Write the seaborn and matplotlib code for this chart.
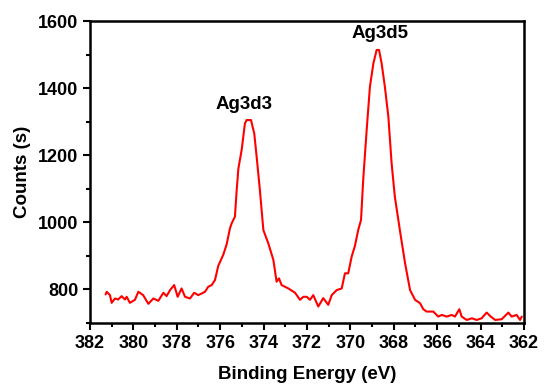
import numpy as np
import pandas as pd
import seaborn as sns
from matplotlib import pyplot as plt
from matplotlib.ticker import MultipleLocator

# binding energy (eV) and counts
energy = [381.28, 381.23, 381.08, 381.00, 380.85, 380.70, 380.54, 380.39, 380.31,
          380.16, 379.93, 379.77, 379.55, 379.31, 379.08, 378.85, 378.62, 378.47,
          378.31, 378.12, 377.96, 377.78, 377.62, 377.39, 377.20, 377.01, 376.85,
          376.70, 376.55, 376.39, 376.24, 376.09, 375.86, 375.70, 375.55, 375.47,
          375.32, 375.24, 375.16, 375.01, 374.86, 374.78, 374.58, 374.43, 374.32,
          374.17, 374.01, 373.78, 373.55, 373.40, 373.29, 373.17, 372.86, 372.55,
          372.32, 372.17, 372.01, 371.86, 371.71, 371.48, 371.25, 371.02, 370.86,
          370.63, 370.40, 370.25, 370.10, 369.94, 369.79, 369.64, 369.51, 369.41,
          369.25, 369.10, 368.94, 368.79, 368.68, 368.56, 368.41, 368.25, 368.10,
          367.95, 367.72, 367.48, 367.25, 367.02, 366.79, 366.64, 366.49, 366.33,
          366.18, 365.95, 365.79, 365.56, 365.33, 365.18, 364.98, 364.87, 364.64,
          364.40, 364.18, 363.95, 363.72, 363.53, 363.33, 363.03, 362.72, 362.57,
          362.34, 362.18, 362.10]
counts = [785, 793, 783, 760, 773, 770, 780, 770, 778,
          760, 769, 793, 783, 757, 773, 766, 790, 780,
          798, 813, 778, 803, 778, 773, 790, 783, 788,
          793, 808, 813, 828, 870, 903, 935, 982, 997,
          1017, 1096, 1161, 1216, 1295, 1305, 1305, 1265, 1196,
          1096, 977, 937, 888, 823, 833, 813, 803, 790,
          769, 778, 778, 769, 783, 749, 774, 754, 783,
          798, 803, 848, 848, 898, 930, 977, 1007, 1126,
          1275, 1404, 1474, 1514, 1514, 1474, 1404, 1315, 1176,
          1076, 977, 878, 798, 769, 759, 741, 734, 734,
          734, 719, 724, 719, 724, 719, 741, 719, 709,
          714, 709, 714, 731, 719, 709, 711, 731, 719,
          724, 709, 719]

peak_labels = ["Ag3d3", "Ag3d5"]
peak_x = [374.9, 368.65]
peak_y = [1352, 1562]

df = pd.DataFrame({"energy": energy, "counts": counts})

sns.set_style("ticks")
plt.rcParams['font.family'] = ['Liberation Sans', 'DejaVu Sans']
plt.rcParams['font.weight'] = 'bold'
plt.rcParams['text.color'] = 'black'
plt.rcParams['axes.labelcolor'] = 'black'
plt.rcParams['xtick.color'] = 'black'
plt.rcParams['ytick.color'] = 'black'

fig = plt.figure(figsize=(5.5, 3.91), dpi=100)
ax = fig.add_axes([0.1636, 0.174, 0.7891, 0.772])

sns.lineplot(data=df, x="energy", y="counts", color="#ff0000", linewidth=1.5,
             sort=False, ax=ax)

for lab, xx, yy in zip(peak_labels, peak_x, peak_y):
    ax.text(xx, yy, lab, ha="center", va="center", fontsize=13.5,
            fontweight="bold", color="black")

ax.set_xlim(382, 362)
ax.set_ylim(700, 1600)
ax.set_xticks(range(382, 361, -2))
ax.set_yticks([800, 1000, 1200, 1400, 1600])
ax.xaxis.set_minor_locator(MultipleLocator(1))
ax.yaxis.set_minor_locator(MultipleLocator(100))
ax.tick_params(which="major", length=5, width=1.5, labelsize=13)
ax.tick_params(which="minor", length=3, width=1.5)
for s in ax.spines.values():
    s.set_linewidth(1.8)
    s.set_color("black")

ax.set_xlabel("Binding Energy (eV)", fontsize=13.5, fontweight="bold", labelpad=10)
ax.set_ylabel("Counts (s)", fontsize=13.5, fontweight="bold", labelpad=5)

plt.savefig("out.png", dpi=100)
